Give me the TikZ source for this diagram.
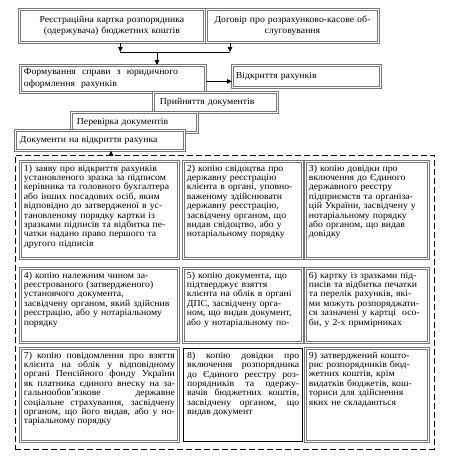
\documentclass[tikz,border=0pt]{standalone}
\usepackage{fontspec}
\setmainfont{Liberation Serif}[FakeStretch=1.06]
\usetikzlibrary{arrows.meta, positioning}
\definecolor{frameline}{HTML}{777777}

\begin{document}
\begin{tikzpicture}[x=1pt, y=-1pt,
  txt/.style={font=\fontsize{9.2}{9.4}\selectfont},
  stage/.style={txt, draw=frameline, double, double distance=0.8pt, line width=0.8pt,
                fill=white, anchor=north west, inner xsep=3.5pt, inner ysep=2pt},
  cell/.style={stage, text height=6.6pt, inner ysep=3pt, align=left},
  chosen/.style={cell, draw=black, line width=1.4pt, double=none},
  arr/.style={-{Triangle[length=5pt, width=4.5pt]}, line width=0.9pt}
]
  \useasboundingbox (0,0) rectangle (460,458);

  % Top: source documents
  \node[stage, text width=178pt, minimum height=33pt, align=center,
        font=\fontsize{9.2}{11}\selectfont]
    (regcard) at (19,9) {Реєстраційна картка розпорядника\\(одержувача) бюджетних коштів};
  \node[stage, text width=165pt, minimum height=33pt, align=center,
        font=\fontsize{9.2}{11}\selectfont]
    (contract) at (206,9) {Договір про розрахунково-касове об-\\слуговування};

  % Case and opening
  \node[stage, text width=178pt, minimum height=27pt, align=left,
        font=\fontsize{9.2}{12}\selectfont]
    (case) at (20,65) {Формування \ справи \ з \ юридичного\\оформлення \ рахунків};
  \node[stage, text width=141pt, minimum height=22pt, align=left]
    (open) at (232,65) {Відкриття рахунків};

  % Steps
  \node[stage, text width=117pt, minimum height=20pt, align=left]
    (accept) at (153,92) {\hspace{3pt}Прийняття документів};
  \node[stage, text width=119pt, minimum height=20pt, align=left]
    (check) at (71,112) {\hspace{2pt}Перевірка документів};
  \node[stage, text width=162pt, minimum height=20pt, align=left]
    (docs) at (15,130) {\hspace{1pt}Документи на відкриття рахунка};

  % Frame round the list
  \node[draw, dashed, dash pattern=on 6pt off 3pt, line width=0.9pt, anchor=north west,
        minimum width=419pt, minimum height=294pt, inner sep=0pt] (list) at (15,155) {};

  % Row 1
  \node[cell, text width=151pt, text depth=84.4pt] (d1) at (20,161)
    {1) заяву про відкриття рахунків\\установленого зразка за підписом\\керівника та головного бухгалтера\\або інших посадових осіб, яким\\відповідно до затвердженої в ус-\\тановленому порядку картки із\\зразками підписів та відбитка пе-\\чатки надано право першого та\\другого підписів};
  \node[cell, text width=112pt, text depth=84.4pt] (d2) at (183,161)
    {2) копію свідоцтва про\\державну реєстрацію\\клієнта в органі, уповно-\\важеному здійснювати\\державну реєстрацію,\\засвідчену органом, що\\видав свідоцтво, або у\\нотаріальному порядку};
  \node[cell, text width=116pt, text depth=84.4pt] (d3) at (305,161)
    {3) копію довідки про\\включення до Єдиного\\державного реєстру\\підприємств та організа-\\цій України, засвідчену у\\нотаріальному порядку\\або органом, що видав\\довідку};

  % Row 2
  \node[cell, text width=151pt, text depth=61.4pt] (d4) at (20,268)
    {4) копію належним чином за-\\реєстрованого (затвердженого)\\установчого документа,\\засвідчену органом, який здійснив\\реєстрацію, або у нотаріальному\\порядку};
  \node[cell, text width=112pt, text depth=61.4pt] (d5) at (183,268)
    {5) копію документа, що\\підтверджує взяття\\клієнта на облік в органі\\ДПС, засвідчену орга-\\ном, що видав документ,\\або у нотаріальному по-};
  \node[cell, text width=116pt, text depth=61.4pt] (d6) at (305,268)
    {6) картку із зразками під-\\писів та відбитка печатки\\та перелік рахунків, які-\\ми можуть розпоряджати-\\ся зазначені у картці \ осо-\\би, у 2-х примірниках};

  % Row 3
  \node[cell, align=justify, text width=151pt, text depth=80.4pt] (d7) at (20,348)
    {7) копію повідомлення про взяття\linebreak клієнта на облік у відповідному\linebreak органі Пенсійного фонду України\linebreak як платника єдиного внеску на за-\linebreak гальнообов’язкове державне\linebreak соціальне страхування, засвідчену\linebreak органом, що його видав, або у но-\linebreak таріальному порядку};
  \node[chosen, align=justify, text width=112pt, text depth=80.4pt] (d8) at (183,348)
    {8) копію довідки про\linebreak включення розпорядника\linebreak до Єдиного реєстру роз-\linebreak порядників та одержу-\linebreak вачів бюджетних коштів,\linebreak засвідчену органом, що\linebreak видав документ};
  \node[cell, text width=116pt, text depth=80.4pt] (d9) at (305,348)
    {9) затверджений кошто-\\рис розпорядників бюд-\\жетних коштів, крім\\видатків бюджетів, кош-\\ториси для здійснення\\яких не складаються};

  % Arrows -- sources to case
  \coordinate (joint) at (157,52);
  \coordinate (up) at (111,155);
  \draw[arr] ([xshift=8.5pt]regcard.south) -- ([xshift=8.5pt]regcard.south |- joint);
  \draw[arr] ([xshift=24pt]contract.south west) -- ([xshift=24pt]contract.south west |- joint);
  \draw[line width=0.9pt] ([xshift=8.5pt]regcard.south |- joint) -- ([xshift=24pt]contract.south west |- joint);
  \draw[arr] (joint) -- (joint |- case.north);

  % Case to opening
  \draw[arr] ([yshift=-2.5pt]case.east) -- ([yshift=-2.5pt]case.east -| open.west);

  % List to documents
  \draw[arr] (up) -- (up |- docs.south);
\end{tikzpicture}
\end{document}
